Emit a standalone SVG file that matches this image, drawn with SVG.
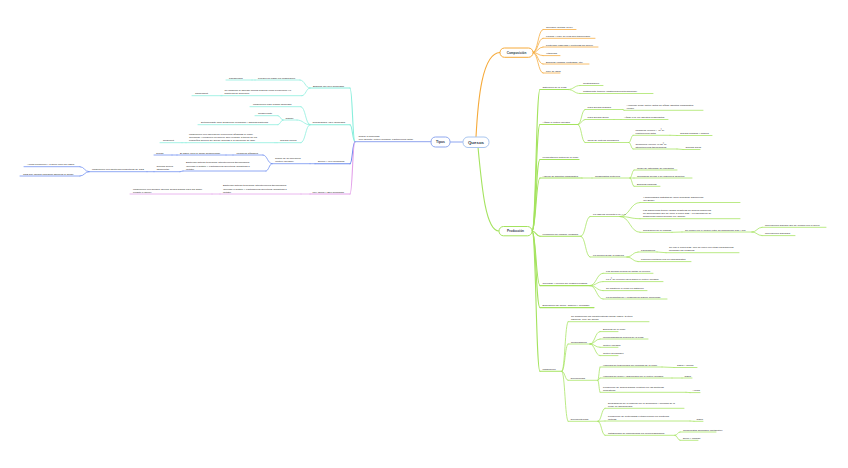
<svg xmlns="http://www.w3.org/2000/svg" width="848" height="468" viewBox="0 0 848 468">
<style>
.t{font-family:"Liberation Sans",Arial,sans-serif;font-size:2.5px;fill:#222}
.h{font-family:"Liberation Sans",Arial,sans-serif;font-weight:bold;fill:#2b3a4a;text-anchor:middle}
path{fill:none;stroke-linecap:round}
.o{stroke:#f6aa3a;stroke-width:0.75}
.g{stroke:#a4e35e;stroke-width:0.75}
.c{stroke:#88eedc;stroke-width:0.75}
.b{stroke:#6c8cf0;stroke-width:0.75}
.m{stroke:#e3a2ea;stroke-width:0.75}
.k{stroke-width:1.1}
.box{fill:#fff;stroke-width:1}
</style>
<rect width="848" height="468" fill="#fff"/>
<g id="connectors">
<path d="M463 142 L450 142" stroke="#b4c4f6" stroke-width="1.4"/>
<path class="o k" d="M476 137 C478 100 482 53 500 52.5"/>
<path class="g k" d="M478 147 C482 190 486 231 499 231"/>
<path class="o" d="M533 52.5 C538 52.5 538 29.5 543 29.5"/>
<path class="o" d="M533 52.5 C538 52.5 538 38.3 543 38.3"/>
<path class="o" d="M533 52.5 C538 52.5 538 47 543 47"/>
<path class="o" d="M533 52.5 C538 52.5 538 55.6 543 55.6"/>
<path class="o" d="M533 52.5 C538 52.5 538 64 543 64"/>
<path class="o" d="M533 52.5 C538 52.5 538 73 543 73"/>
<path class="g k" d="M532 231 C536 231 536 89.5 540 89.5"/>
<path class="g k" d="M532 231 C536 231 536 124.5 540 124.5"/>
<path class="g k" d="M532 231 C536 231 536 159.5 540 159.5"/>
<path class="g k" d="M532 231 C536 231 536 178 540 178"/>
<path class="g k" d="M532 231 C536 231 536 236.3 540 236.3"/>
<path class="g k" d="M532 231 C536 231 536 285.6 540 285.6"/>
<path class="g k" d="M532 231 C536 231 536 307.6 540 307.6"/>
<path class="g k" d="M532 231 C536 231 536 371.3 540 371.3"/>
<path class="g" d="M568 89.5 C574 89.5 574 85.5 580 85.5"/>
<path class="g" d="M568 89.5 C574 89.5 574 93.5 580 93.5"/>
<path class="g" d="M578 124.5 C581.5 124.5 581.5 109.5 585 109.5"/>
<path class="g" d="M578 124.5 C581.5 124.5 581.5 119.5 585 119.5"/>
<path class="g" d="M578 124.5 C581.5 124.5 581.5 142.5 585 142.5"/>
<path class="g" d="M623 109.5 C623.5 109.5 623.5 110.3 624 110.3"/>
<path class="g" d="M614 119.5 L621 119.5"/>
<path class="g" d="M629 142.5 C631 142.5 631 135.3 633 135.3"/>
<path class="g" d="M629 142.5 C631 142.5 631 149 633 149"/>
<path class="g" d="M670 135.3 L677 135.5"/>
<path class="g" d="M677 149 L683 149.5"/>
<path class="g" d="M582 178 L592 178"/>
<path class="g" d="M630 178 C632 178 632 170 634 170"/>
<path class="g" d="M630 178 L634 178"/>
<path class="g" d="M630 178 C632 178 632 186.3 634 186.3"/>
<path class="g" d="M581 236.3 C585.5 236.3 585.5 216.5 590 216.5"/>
<path class="g" d="M581 236.3 C585.5 236.3 585.5 257 590 257"/>
<path class="g" d="M620 216.5 C630 216.5 630 202.5 640 202.5"/>
<path class="g" d="M620 216.5 C630 216.5 630 218.7 640 218.7"/>
<path class="g" d="M620 216.5 C630 216.5 630 232.3 640 232.3"/>
<path class="g" d="M672 232.3 L682 232"/>
<path class="g" d="M752 232 C757 232 757 227.3 762 227.3"/>
<path class="g" d="M752 232 C757 232 757 235.6 762 235.6"/>
<path class="g" d="M627 257 C632.5 257 632.5 252 638 252"/>
<path class="g" d="M627 257 C632.5 257 632.5 261.6 638 261.6"/>
<path class="g" d="M657 252 L666 252.7"/>
<path class="g" d="M590 285.6 C596.5 285.6 596.5 273.3 603 273.3"/>
<path class="g" d="M590 285.6 C596.5 285.6 596.5 281.6 603 281.6"/>
<path class="g" d="M590 285.6 C596.5 285.6 596.5 290.6 603 290.6"/>
<path class="g" d="M590 285.6 C596.5 285.6 596.5 299 603 299"/>
<path class="g" d="M562 371.3 C565 371.3 565 321.7 568 321.7"/>
<path class="g" d="M562 371.3 C565 371.3 565 344 568 344"/>
<path class="g" d="M562 371.3 C565 371.3 565 380.3 568 380.3"/>
<path class="g" d="M562 371.3 C565 371.3 565 421.3 568 421.3"/>
<path class="g" d="M590 344 C595 344 595 331.6 600 331.6"/>
<path class="g" d="M590 344 C595 344 595 339 600 339"/>
<path class="g" d="M590 344 C595 344 595 347.3 600 347.3"/>
<path class="g" d="M590 344 C595 344 595 355.6 600 355.6"/>
<path class="g" d="M598 380.3 C599 380.3 599 367 600 367"/>
<path class="g" d="M598 380.3 C599 380.3 599 378 600 378"/>
<path class="g" d="M598 380.3 C599 380.3 599 392.3 600 392.3"/>
<path class="g" d="M662 367 L674 367.5"/>
<path class="g" d="M672 378 L682 378"/>
<path class="g" d="M686 392.3 L690 392.6"/>
<path class="g" d="M598 421.3 C601.5 421.3 601.5 408.3 605 408.3"/>
<path class="g" d="M598 421.3 L605 421"/>
<path class="g" d="M598 421.3 C601.5 421.3 601.5 435.3 605 435.3"/>
<path class="g" d="M690 421 L694 421.3"/>
<path class="g" d="M675 435.3 C677.5 435.3 677.5 432 680 432"/>
<path class="g" d="M675 435.3 C677.5 435.3 677.5 440.3 680 440.3"/>
<path class="c k" d="M355 141.7 C352.5 141.7 352.5 88 350 88"/>
<path class="c k" d="M355 141.7 C352.5 141.7 352.5 124.7 350 124.7"/>
<path class="b k" d="M355 141.7 C352.5 141.7 352.5 163.7 350 163.7"/>
<path class="m k" d="M355 141.7 C352.5 141.7 352.5 194 350 194"/>
<path class="c" d="M310 88 C305 88 305 80 300 80"/>
<path class="c" d="M310 88 C306 88 306 95.7 302 95.7"/>
<path class="c" d="M255 80 L252 80"/>
<path class="c" d="M222 95.7 L221 95.7"/>
<path class="c" d="M310 124.7 C305.5 124.7 305.5 106.7 301 106.7"/>
<path class="c" d="M310 124.7 C303.5 124.7 303.5 120 297 120"/>
<path class="c" d="M310 124.7 C305.5 124.7 305.5 142.7 301 142.7"/>
<path class="c" d="M283 120 C280.5 120 280.5 115.7 278 115.7"/>
<path class="c" d="M283 120 C280.5 120 280.5 124.7 278 124.7"/>
<path class="c" d="M277 142.7 L275 142.7"/>
<path class="c" d="M186 142.7 L182 142.7"/>
<path class="b" d="M315 163.7 L310 163.7"/>
<path class="b" d="M272 163.7 C267.5 163.7 267.5 155 263 155"/>
<path class="b" d="M272 163.7 C269 163.7 269 171 266 171"/>
<path class="b" d="M233 155 L226 155"/>
<path class="b" d="M177 155 L172 155"/>
<path class="b" d="M183 171 L180 171.7"/>
<path class="b" d="M154 171.7 L147 171.7"/>
<path class="b" d="M89 171.7 C84.5 171.7 84.5 166.7 80 166.7"/>
<path class="b" d="M89 171.7 C84.5 171.7 84.5 176 80 176"/>
<path class="m" d="M310 194 L301 194"/>
<path class="m" d="M220 194 L212 194"/>
</g>

<g id="quesos"><rect class="box" x="463" y="137" width="26" height="10.5" rx="5" stroke="#a9c6ef"/><text class="h" x="476" y="143.9" font-size="4.4">Quesos</text></g>
<g id="tipos"><rect class="box" x="431" y="137" width="19" height="10" rx="4.5" stroke="#8ea7ef"/><text class="h" x="440.5" y="143.3" font-size="3.4">Tipos</text></g>
<g id="composicion"><rect class="box" x="500" y="48" width="33" height="9.3" rx="4.5" stroke="#f6aa3a"/><text class="h" x="516.5" y="53.8" font-size="3.1">Composición</text></g>
<g id="produccion"><rect class="box" x="499" y="226.5" width="33" height="9.3" rx="4.5" stroke="#a4e35e"/><text class="h" x="515.5" y="232.3" font-size="3.1">Producción</text></g>

<g id="c1"><path class="o" d="M543 29.5H576"/><text class="t" x="546" y="28.2">Glúcidos (lactosa 45 g/l)</text></g>
<g id="c2"><path class="o" d="M543 38.3H595"/><text class="t" x="546" y="37">Lípidos (&gt;95% de ellos son triglicéridos)</text></g>
<g id="c3"><path class="o" d="M543 47H598"/><text class="t" x="546" y="45.7">Proteínas (caseínas y proteínas del suero)</text></g>
<g id="c4"><path class="o" d="M543 55.6H560"/><text class="t" x="546" y="54.3">Vitaminas</text></g>
<g id="c5"><path class="o" d="M543 64H589"/><text class="t" x="546" y="62.7">Enzimas (lipasas, proteasas, etc)</text></g>
<g id="c6"><path class="o" d="M543 73H560"/><text class="t" x="546" y="71.7">87% de agua</text></g>

<g id="p1"><path class="g k" d="M540 89.5H568"/><text class="t" x="542.5" y="88.2">Obtención de la leche</text></g>
<g id="p1a"><path class="g" d="M580 85.5H603"/><text class="t" x="583" y="84.2">Centrifugación</text></g>
<g id="p1b"><path class="g" d="M580 93.5H653"/><text class="t" x="583" y="92.2">Tratamiento térmico (pasteurización/termización)</text></g>
<g id="p2"><path class="g k" d="M540 124.5H578"/><text class="t" x="542.5" y="123.2">Añadir el cultivo iniciador</text></g>
<g id="p2a"><path class="g" d="M585 109.5H623"/><text class="t" x="587.5" y="108.2">Para quesos blandos</text></g>
<g id="p2a1"><path class="g" d="M624 110.3H703"/><text class="t"><tspan x="626.5" y="105.8">Acumular ácido láctico antes de añadir agentes coagulantes</tspan><tspan x="626.5" y="109">(cuajo)</tspan></text></g>
<g id="p2b"><path class="g" d="M585 119.5H614"/><text class="t" x="587.5" y="118.2">Para quesos duros</text></g>
<g id="p2b1"><path class="g" d="M621 119.5H668"/><text class="t" x="624" y="118.2">Añadir a la vez agentes coagulantes</text></g>
<g id="p2c"><path class="g" d="M585 142.5H629"/><text class="t" x="587.5" y="141.2">Tipos de cultivos iniciadores</text></g>
<g id="p2c1"><path class="g" d="M633 135.3H670"/><text class="t"><tspan x="635.5" y="130.8">Mesófilos (crecen &lt; 40ºC)</tspan><tspan x="635.5" y="134">Lactococcus lactis</tspan></text></g>
<g id="p2c1a"><path class="g" d="M677 135.5H712"/><text class="t" x="680" y="134.2">Quesos blandos y frescos</text></g>
<g id="p2c2"><path class="g" d="M633 149H677"/><text class="t"><tspan x="635.5" y="144.5">Termófilos (crecen 40-50ºC)</tspan><tspan x="635.5" y="147.7">Streptococcus thermophilus</tspan></text></g>
<g id="p2c2a"><path class="g" d="M683 149.5H700"/><text class="t" x="685.5" y="148.2">Quesos duros</text></g>
<g id="p3"><path class="g k" d="M540 159.5H579"/><text class="t" x="542.5" y="158.2">Fermentación láctica de la leche</text></g>
<g id="p4"><path class="g k" d="M540 178H582"/><text class="t" x="542.5" y="176.7">Adición de agentes coagulantes</text></g>
<g id="p4a"><path class="g" d="M592 178H630"/><text class="t" x="595" y="176.7">Coagulantes proteicos</text></g>
<g id="p4a1"><path class="g" d="M634 170H677"/><text class="t" x="637" y="168.7">Cuajo de estómago de rumiantes</text></g>
<g id="p4a2"><path class="g" d="M634 178H692"/><text class="t" x="637" y="176.7">Quimosina bovina o de ingeniería genética</text></g>
<g id="p4a3"><path class="g" d="M634 186.3H660"/><text class="t" x="637" y="185">Enzimas fúngicas</text></g>
<g id="p5"><path class="g k" d="M540 236.3H581"/><text class="t" x="542.5" y="235">Formación de coágulo (cuajada)</text></g>
<g id="p5a"><path class="g" d="M590 216.5H620"/><text class="t" x="593" y="215.2">La caseína precipita a pH 4.6</text></g>
<g id="p5a1"><path class="g" d="M640 202.5H740"/><text class="t"><tspan x="643" y="198">4 subunidades distintas se unen formando submicelas</tspan><tspan x="643" y="201.2">(10-20nm)</tspan></text></g>
<g id="p5a2"><path class="g" d="M640 218.7H740"/><text class="t"><tspan x="643" y="211">Las submicelas tienen cargas negativas de grupos carboxilos</tspan><tspan x="643" y="214.2">de aminoácidos que se unen a iones Ca2+. La agregación de</tspan><tspan x="643" y="217.4">submicelas forma micelas (60-450nm)</tspan></text></g>
<g id="p5a3"><path class="g" d="M640 232.3H672"/><text class="t" x="643" y="231">Separación de la cuajada</text></g>
<g id="p5a3a"><path class="g" d="M682 232H752"/><text class="t" x="685" y="230.7">Se rompe por el enlace entre su aminoácido 105 y 106</text></g>
<g id="p5a3a1"><path class="g" d="M762 227.3H826"/><text class="t" x="765" y="226">Una fracción hidrófila que se elimina con el suero</text></g>
<g id="p5a3a2"><path class="g" d="M762 235.6H795"/><text class="t" x="765" y="234.3">Una fracción hidrófoba</text></g>
<g id="p5b"><path class="g" d="M590 257H627"/><text class="t" x="593" y="255.7">La enzima divide la caseína</text></g>
<g id="p5b1"><path class="g" d="M638 252H657"/><text class="t" x="641" y="250.7">Paracaseína</text></g>
<g id="p5b1a"><path class="g" d="M666 252.7H739"/><text class="t"><tspan x="669" y="248.2">Se une a iones Ca2+ que se unen con otras paracaseínas</tspan><tspan x="669" y="251.4">formando así coágulos.</tspan></text></g>
<g id="p5b2"><path class="g" d="M638 261.6H691"/><text class="t" x="641" y="260.3">Fracción peptídica rica en carbohidratos</text></g>
<g id="p6"><path class="g k" d="M540 285.6H590"/><text class="t" x="542.5" y="284.3">Troceado y cocción del coágulo/cuajada</text></g>
<g id="p6a"><path class="g" d="M603 273.3H653"/><text class="t" x="606" y="272">Los quesos frescos se saltan la cocción</text></g>
<g id="p6b"><path class="g" d="M603 281.6H663"/><text class="t" x="606" y="280.3">La Tº de cocción varía según el cultivo iniciador</text></g>
<g id="p6c"><path class="g" d="M603 290.6H647"/><text class="t" x="606" y="289.3">Se mantiene el cuajo en agitación</text></g>
<g id="p6d"><path class="g" d="M603 299H667"/><text class="t" x="606" y="297.7">La fermentación y coagulación siguen ocurriendo</text></g>
<g id="p7"><path class="g k" d="M540 307.6H594"/><text class="t" x="542.5" y="306.3">Eliminación del suero, salazón y prensado</text></g>
<g id="p8"><path class="g k" d="M540 371.3H562"/><text class="t" x="542.5" y="370">Maduración</text></g>
<g id="p8a"><path class="g" d="M568 321.7H649"/><text class="t"><tspan x="571" y="317.2">Se desarrollan las características físicas (sabor, textura,</tspan><tspan x="571" y="320.4">agujeros, olor) del queso</tspan></text></g>
<g id="p8b"><path class="g" d="M568 344H590"/><text class="t" x="571" y="342.7">Responsables</text></g>
<g id="p8b1"><path class="g" d="M600 331.6H618"/><text class="t" x="603" y="330.3">Enzimas de la leche</text></g>
<g id="p8b2"><path class="g" d="M600 339H648"/><text class="t" x="603" y="337.7">Microorganismos propios de la leche</text></g>
<g id="p8b3"><path class="g" d="M600 347.3H618"/><text class="t" x="603" y="346">Cultivo iniciador</text></g>
<g id="p8b4"><path class="g" d="M600 355.6H618"/><text class="t" x="603" y="354.3">Cultivo secundario</text></g>
<g id="p8c"><path class="g" d="M568 380.3H598"/><text class="t" x="570.5" y="379">Glucolipólisis</text></g>
<g id="p8c1"><path class="g" d="M600 367H662"/><text class="t" x="603" y="365.7">Hidrólisis de triglicéridos por enzimas de la leche</text></g>
<g id="p8c1a"><path class="g" d="M674 367.5H697"/><text class="t" x="677" y="366.2">Sabor y aroma</text></g>
<g id="p8c2"><path class="g" d="M600 378H672"/><text class="t" x="603" y="376.7">Hidrólisis de mono y diglicéridos por el cultivo iniciador</text></g>
<g id="p8c2a"><path class="g" d="M682 378H692"/><text class="t" x="684.5" y="376.7">Sabor</text></g>
<g id="p8c3"><path class="g" d="M600 392.3H686"/><text class="t"><tspan x="603" y="387.8">Producción de ácidos grasos volátiles por las bacterias</tspan><tspan x="603" y="391">aromáticas</tspan></text></g>
<g id="p8c3a"><path class="g" d="M690 392.6H700"/><text class="t" x="692.5" y="391.3">Aroma</text></g>
<g id="p8d"><path class="g" d="M568 421.3H598"/><text class="t" x="570.5" y="420">Glucoproteólisis</text></g>
<g id="p8d1"><path class="g" d="M605 408.3H684"/><text class="t"><tspan x="608" y="403.8">Degradación de la caseína por la quimosina y enzimas de la</tspan><tspan x="608" y="407">leche en aminoácidos</tspan></text></g>
<g id="p8d2"><path class="g" d="M605 421H690"/><text class="t"><tspan x="608" y="416.5">Producción de proteinasas extracelulares por bacterias</tspan><tspan x="608" y="419.7">lácticas</tspan></text></g>
<g id="p8d2a"><path class="g" d="M694 421.3H703"/><text class="t" x="696.5" y="420">Sabor</text></g>
<g id="p8d3"><path class="g" d="M605 435.3H675"/><text class="t" x="608" y="434">Catabolismo de aminoácidos por microorganismos</text></g>
<g id="p8d3a"><path class="g" d="M680 432H716"/><text class="t" x="683" y="430.7">Compuestos azufrados (metanotiol)</text></g>
<g id="p8d3b"><path class="g" d="M680 440.3H698"/><text class="t" x="683" y="439">Dulce y amargo</text></g>

<g id="t0"><path d="M355 141.7H431" stroke="#8fa3ee" stroke-width="1"/><text class="t"><tspan x="358.5" y="137.2">Según la humedad</tspan><tspan x="358.5" y="140.4">(Por defecto: cultivo iniciador: Lactococcus lactis)</tspan></text></g>
<g id="t1"><path class="c k" d="M310 88H350"/><text class="t" x="313" y="86.7">Blandos (50-60% humedad)</text></g>
<g id="t1a"><path class="c" d="M255 80H300"/><text class="t" x="258" y="78.7">Pueden no pasar por maduración</text></g>
<g id="t1a1"><path class="c" d="M226 80H252"/><text class="t" x="229" y="78.7">Philadelphia</text></g>
<g id="t1b"><path class="c" d="M222 95.7H302"/><text class="t"><tspan x="224.5" y="91.2">Se maduran al agregar mohos blancos como Penicillium y/o</tspan><tspan x="224.5" y="94.4">bacterias de superficie</tspan></text></g>
<g id="t1b1"><path class="c" d="M192 95.7H221"/><text class="t" x="195" y="94.4">Camembert</text></g>
<g id="t2"><path class="c k" d="M310 124.7H350"/><text class="t" x="312.5" y="123.4">Semiblandos (45% humedad)</text></g>
<g id="t2a"><path class="c" d="M250 106.7H301"/><text class="t" x="253" y="105.4">Maduración para rebajar humedad</text></g>
<g id="t2b"><path class="c" d="M283 120H297"/><text class="t" x="285.5" y="118.7">Salado</text></g>
<g id="t2b1"><path class="c" d="M255 115.7H278"/><text class="t" x="258" y="114.4">Conservante</text></g>
<g id="t2b2"><path class="c" d="M198 124.7H278"/><text class="t" x="201" y="123.4">Determinante para desarrollar levaduras y algunas bacterias</text></g>
<g id="t2c"><path class="c" d="M277 142.7H301"/><text class="t" x="280" y="141.4">Quesos azules</text></g>
<g id="t2c1"><path class="c" d="M186 142.7H275"/><text class="t"><tspan x="189" y="134.9">Maduración con esporas de Penicillium añadidas al cuajo.</tspan><tspan x="189" y="138.1">Germinan y producen un micelio azul-verdoso a través de los</tspan><tspan x="189" y="141.3">pequeños huecos del queso (gracias a la liberación de gas)</tspan></text></g>
<g id="t2c1a"><path class="c" d="M160 142.7H182"/><text class="t" x="163" y="141.4">Roquefort</text></g>
<g id="t3"><path class="b k" d="M315 163.7H350"/><text class="t" x="318" y="162.4">Duros (&lt;40% humedad)</text></g>
<g id="t3a"><path class="b" d="M272 163.7H310"/><text class="t"><tspan x="275" y="159.2">Según de su microflora</tspan><tspan x="275" y="162.4">(cultivo iniciador)</tspan></text></g>
<g id="t3a1"><path class="b" d="M233 155H263"/><text class="t" x="236.5" y="153.7">Mesófilos añadidos</text></g>
<g id="t3a1a"><path class="b" d="M177 155H226"/><text class="t" x="180" y="153.7">El sabor varía al afinar desarrollarse</text></g>
<g id="t3a1a1"><path class="b" d="M154 155H172"/><text class="t" x="156" y="153.7">Gouda</text></g>
<g id="t3a2"><path class="b" d="M183 171H266"/><text class="t"><tspan x="186" y="163.3">Bacterias lácticas termófilas: Streptococcus thermophilus</tspan><tspan x="186" y="166.5">(glucosa a lactato) y Lactobacillus helveticus (galactosa a</tspan><tspan x="186" y="169.7">lactato)</tspan></text></g>
<g id="t3a2a"><path class="b" d="M154 171.7H180"/><text class="t"><tspan x="156.5" y="167.2">Quesos suizos</tspan><tspan x="156.5" y="170.4">(Emmental)</tspan></text></g>
<g id="t3a2a1"><path class="b" d="M89 171.7H147"/><text class="t" x="92" y="170.4">Maduración con bacterias productoras de CO2</text></g>
<g id="t3a2a1a"><path class="b" d="M24 166.7H80"/><text class="t" x="27" y="165.4">Aroma propiónico y a dulce nuez del sabor</text></g>
<g id="t3a2a1b"><path class="b" d="M20 176H80"/><text class="t" x="23" y="174.7">CO2 que escapa formando agujeros al queso</text></g>
<g id="t4"><path class="m k" d="M310 194H350"/><text class="t" x="312.5" y="192.7">Muy duros (&lt;25% humedad)</text></g>
<g id="t4a"><path class="m" d="M220 194H301"/><text class="t"><tspan x="223" y="186.3">Bacterias lácticas termófilas: Streptococcus thermophilus</tspan><tspan x="223" y="189.5">(glucosa a lactato) y Lactobacillus helveticus (galactosa a</tspan><tspan x="223" y="192.7">lactato)</tspan></text></g>
<g id="t4a1"><path class="m" d="M130 194H212"/><text class="t"><tspan x="133" y="189.5">Maduración con hongos (genera ácidos grasos para dar sabor</tspan><tspan x="133" y="192.7">picante o rancio)</tspan></text></g>
</svg>
